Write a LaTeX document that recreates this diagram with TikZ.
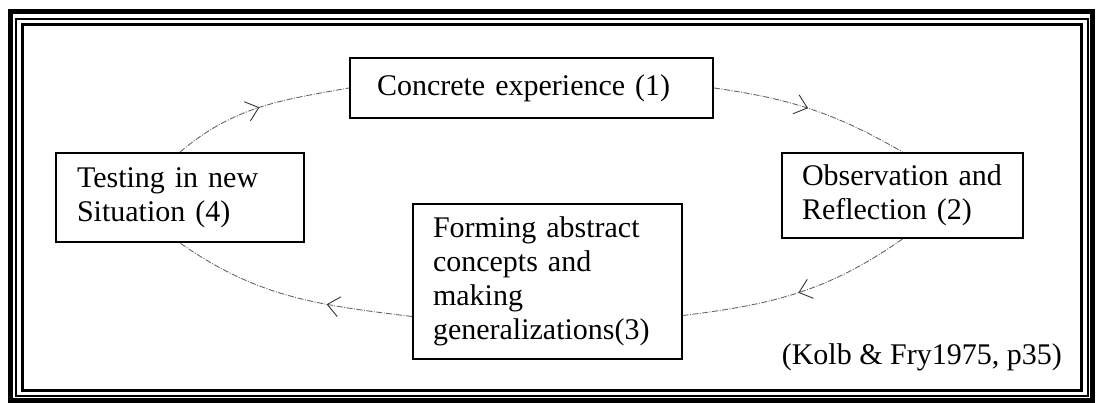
\documentclass[tikz,border=0pt]{standalone}
\usepackage{fontspec}
\setmainfont{Liberation Serif}
\usetikzlibrary{arrows.meta,decorations.markings}
\begin{document}
\begin{tikzpicture}[x=1pt,y=1pt,
  stage/.style={draw=black, line width=2pt, rectangle, align=left,
    inner ysep=0pt, font=\fontsize{30}{34}\selectfont},
  loopline/.style={draw=black!60, line width=0.9pt,
    dash pattern=on 6pt off 1.5pt on 1pt off 1.5pt,
    decoration={markings, mark=at position #1 with
      {\arrow[black!80, solid]{Straight Barb[length=12pt,width=20pt,line width=0.9pt]}}},
    postaction={decorate}},
]
\useasboundingbox (0,0) rectangle (1097,403);

% triple frame
\draw[line width=5pt] (10,2.5) rectangle (1092.5,391.5);
\draw[line width=2pt] (16,6.5) rectangle (1087.5,383.7);
\draw[line width=3pt] (22.5,12.5) rectangle (1081.5,378.5);

% the four stages
\node[stage, text width=309pt, inner xsep=27pt, minimum height=60pt] (ce) at (531.5,315) {Concrete experience (1)};
\node[stage, text width=206pt, inner xsep=21pt, minimum height=89pt] (tn) at (180,205.5) {Testing in new\\Situation (4)};
\node[stage, text width=201pt, inner xsep=20pt, minimum height=85pt] (or) at (902.5,207.5) {Observation and\\Reflection (2)};
\node[stage, text width=229pt, inner xsep=20pt, minimum height=155pt] (fa) at (547.5,121.5) {Forming abstract\\concepts and\\making\\generalizations(3)};

% source
\node[font=\fontsize{30}{34}\selectfont, anchor=base east, inner sep=0pt] (src) at (1062,38) {(Kolb \& Fry1975, p35)};

% cycle connectors
\draw[loopline=0.5] (tn.north) to[out=40,in=190] (ce.west);
\draw[loopline=0.48] (ce.east) to[out=-8,in=150] (or.north);
\draw[loopline=0.5] (or.south) to[out=215,in=7] ([yshift=-34pt]fa.east);
\draw[loopline=0.35] ([yshift=-35pt]fa.west) to[out=173,in=-35] (tn.south);
\end{tikzpicture}
\end{document}
